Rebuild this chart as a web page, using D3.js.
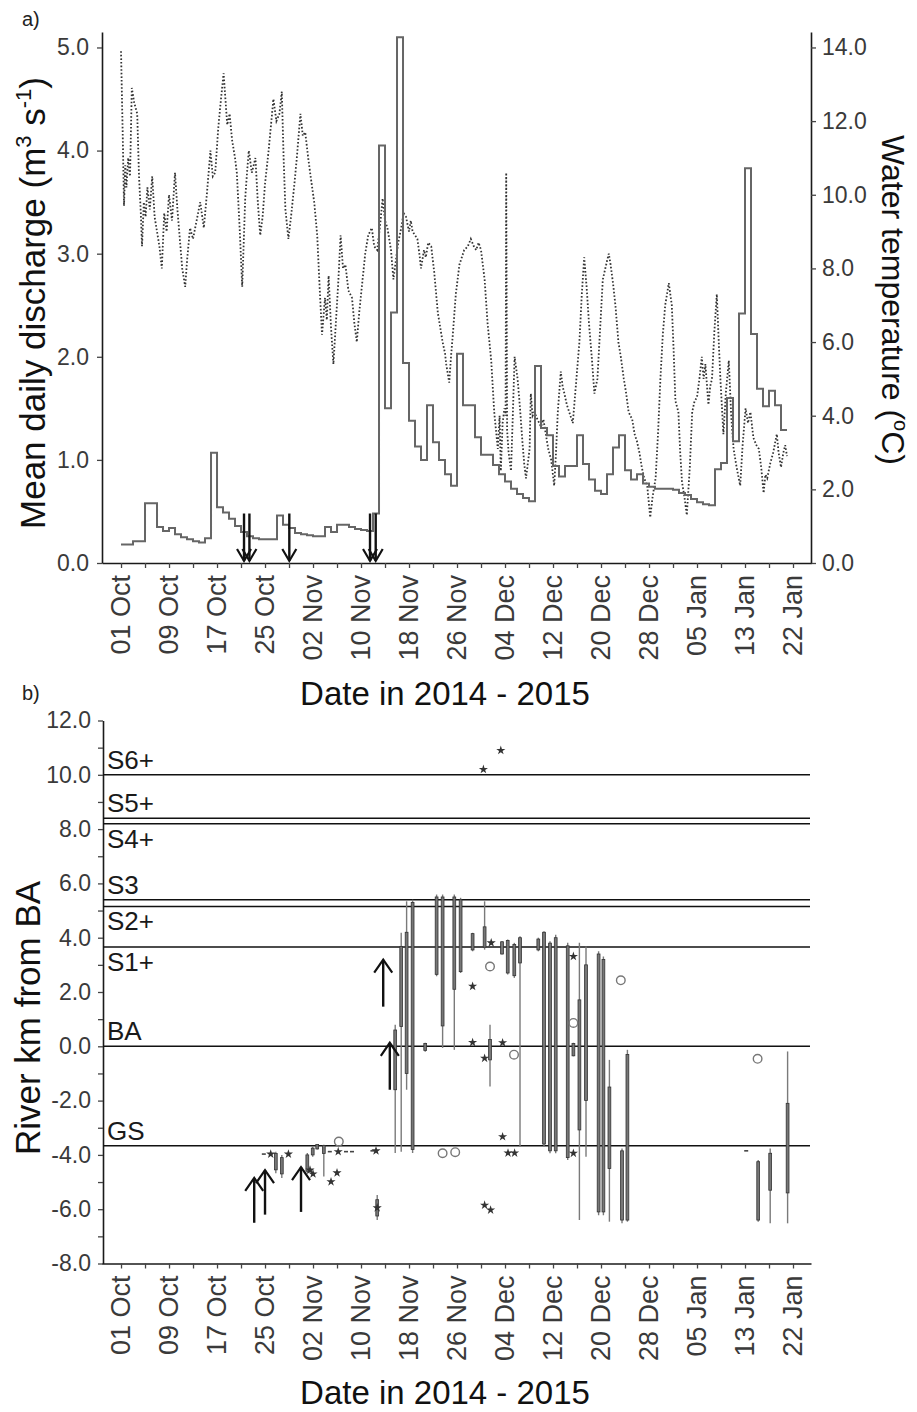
<!DOCTYPE html>
<html><head><meta charset="utf-8">
<script src="https://cdnjs.cloudflare.com/ajax/libs/d3/7.8.5/d3.min.js"></script>
<style>
body{margin:0;background:#fff;}
svg{font-family:"Liberation Sans", Arial, sans-serif;}
</style></head><body>
<svg id="chart" width="917" height="1412"></svg>
<script>
// ---------------- DATA ----------------
const dateTickDays = [0,8,16,24,32,40,48,56,64,72,80,88,96,104,112];
const dateTickLabels = ["01 Oct","09 Oct","17 Oct","25 Oct","02 Nov","10 Nov","18 Nov","26 Nov","04 Dec","12 Dec","20 Dec","28 Dec","05 Jan","13 Jan","22 Jan"];

// mean daily discharge (m3 s-1), one value per day from 01 Oct 2014
const discharge = [
0.18,0.18,0.21,0.21,0.58,0.58,0.35,0.31,0.34,0.28,
0.25,0.23,0.21,0.20,0.24,1.07,0.54,0.49,0.43,0.36,
0.30,0.26,0.24,0.23,0.23,0.23,0.46,0.37,0.34,0.29,
0.28,0.27,0.26,0.26,0.35,0.30,0.37,0.37,0.35,0.33,
0.32,0.31,0.48,4.05,1.50,2.43,5.10,1.94,1.38,1.13,
1.00,1.53,1.17,1.00,0.86,0.75,2.03,1.53,1.53,1.22,
1.05,1.05,0.95,0.86,0.79,0.72,0.67,0.63,0.60,1.91,
1.31,1.24,0.94,0.84,0.94,0.94,1.24,0.96,0.81,0.70,
0.67,0.86,1.12,1.24,0.90,0.81,0.86,0.77,0.74,0.72,
0.72,0.72,0.71,0.68,0.66,0.62,0.59,0.57,0.56,0.91,
0.97,1.60,1.18,2.42,3.83,2.22,1.69,1.52,1.67,1.53,
1.29];

// water temperature (deg C), sampled along the record (day offset from 01 Oct)
const tempDays = [
0.0,0.3,0.5,0.7,0.9,1.2,1.5,1.8,2.2,2.7,3.0,3.3,3.5,3.8,4.1,4.4,4.8,5.2,5.6,6.0,
6.4,6.8,7.2,7.6,8.0,8.5,9.0,9.4,9.8,10.2,10.7,11.0,11.5,12.0,12.6,13.2,13.8,14.3,14.9,15.3,
15.7,16.2,16.6,17.1,17.7,18.1,18.5,19.0,19.3,19.8,20.2,20.7,21.0,21.3,21.8,22.4,22.8,23.2,23.6,24.0,
24.6,25.4,25.9,26.4,26.8,27.1,27.4,27.9,28.4,28.9,29.3,29.9,30.3,30.7,31.2,31.6,32.2,32.7,33.1,33.5,
34.0,34.3,34.6,35.0,35.4,35.8,36.2,36.6,37.0,37.4,37.9,38.5,38.9,39.3,39.7,40.2,40.7,41.2,41.8,42.2,
42.7,43.2,43.6,44.0,44.4,45.0,45.4,45.8,46.2,46.7,47.1,47.5,48.0,48.3,48.6,49.0,49.4,49.8,50.0,50.5,
50.8,51.2,51.7,52.2,52.8,53.3,53.6,54.0,54.2,54.7,55.0,55.3,55.8,56.4,56.8,57.2,57.8,58.3,58.8,59.2,
59.6,60.0,60.6,61.1,61.7,62.2,62.5,62.8,63.1,63.3,63.6,63.9,64.1,64.2,64.35,64.6,65.0,65.3,65.6,66.1,
66.5,66.9,67.2,67.5,68.1,68.3,68.6,68.9,69.4,70.0,70.4,70.8,71.2,71.7,72.2,72.5,72.8,73.3,73.6,73.9,
74.3,74.7,75.3,75.8,76.4,76.8,77.2,77.6,78.0,78.5,78.9,79.4,79.9,80.3,81.0,81.3,81.6,82.0,82.4,82.9,
83.3,83.8,84.2,84.6,85.2,85.6,86.0,86.4,86.8,87.2,87.7,88.2,88.6,89.1,89.5,89.9,90.3,90.7,91.3,91.8,
92.1,92.4,92.9,93.2,93.5,93.9,94.3,94.8,95.2,95.6,96.0,96.4,96.8,97.1,97.4,97.9,98.2,98.5,98.9,99.3,
99.6,99.9,100.4,100.8,101.3,101.7,102.1,102.6,103.2,103.6,104.1,104.5,104.9,105.4,105.9,106.3,106.7,107.1,107.4,107.7,
108.2,108.7,109.3,109.6,110.0,110.4,110.7,111.0];
const tempValues = [
13.9,11.5,9.7,10.8,10.2,11.0,10.5,12.9,12.5,12.2,10.5,9.5,8.6,9.8,9.4,10.2,9.6,10.5,9.4,9.0,
8.6,8.0,9.5,9.0,10.0,9.3,10.6,9.6,8.8,8.0,7.5,8.2,9.1,8.8,9.3,9.8,9.1,10.0,11.2,10.5,
10.6,11.8,12.5,13.3,11.9,12.2,11.5,11.0,10.6,9.0,7.5,9.9,10.6,11.2,10.6,11.0,9.8,8.9,9.4,10.3,
11.2,12.6,12.0,12.2,12.8,11.0,9.6,8.8,9.5,10.3,11.0,12.2,11.6,11.7,11.0,10.5,9.8,8.9,7.5,6.2,
7.2,6.6,7.8,6.4,5.4,6.5,7.6,8.9,8.0,8.1,7.4,7.2,6.5,6.0,6.8,7.6,8.4,8.9,9.1,8.6,
8.5,9.2,9.9,9.3,9.1,8.5,7.7,8.2,8.7,9.1,9.5,9.4,9.0,9.3,9.0,8.9,8.8,8.3,8.0,8.5,
8.3,8.7,8.6,7.9,6.8,6.3,6.0,5.7,5.4,4.9,5.6,6.2,7.3,8.1,8.3,8.5,8.6,8.8,8.6,8.5,
8.7,8.5,7.7,6.5,5.5,4.1,3.6,3.1,4.0,2.5,3.8,4.2,4.0,10.6,3.6,3.0,2.5,4.0,5.6,5.0,
4.2,3.3,2.7,2.3,3.1,4.6,4.0,4.1,3.9,3.7,3.9,3.5,3.1,2.8,2.1,3.0,4.1,5.2,4.8,4.6,
4.3,4.1,3.8,4.8,6.0,7.3,8.3,7.5,6.5,5.5,4.6,5.0,6.5,7.7,8.2,8.4,8.1,7.6,7.0,6.0,
5.6,5.0,4.6,4.1,3.9,3.5,3.3,3.0,2.6,2.3,2.1,1.24,1.8,2.3,3.5,5.0,6.2,7.0,7.6,7.0,
5.8,4.4,4.1,3.0,2.2,1.8,1.3,2.6,4.1,4.4,4.5,5.0,5.6,5.0,5.4,4.3,4.8,5.0,6.3,7.3,
6.1,5.0,3.5,4.6,5.5,4.0,3.1,2.6,2.1,3.2,4.2,3.8,4.1,3.4,3.2,3.1,2.6,1.9,2.4,2.3,
2.7,3.0,3.5,3.0,2.6,3.0,3.2,2.9];

// release / event arrows (panel a), day offsets
const arrowDaysA = [20.5,21.4,28.05,41.5,42.45];
const arrowTailQ = 0.48, arrowTipQ = 0.02;

// panel b: river sections
const zoneNames = ["S6+","S5+","S4+","S3","S2+","S1+","BA","GS"];
const zoneKm    = [10.0, 8.4, 8.2, 5.4, 5.15, 3.66, 0, -3.66];
const zoneLabelBelow = [false,false,true,false,true,true,false,false];

// panel b: individual tracks [day, min, max, q1, q3]
const tracks = [
[25.8,-4.68,-3.88,-4.55,-3.95],[26.8,-4.85,-4.0,-4.7,-4.1],[31.05,-4.68,-3.93,-4.6,-4.0],
[31.95,-4.07,-3.7,-4.0,-3.75],[32.7,-3.8,-3.6,-3.78,-3.62],[33.8,-4.8,-3.63,-3.95,-3.65],
[42.7,-6.4,-5.48,-6.25,-5.65],[45.7,-3.93,0.79,-1.6,0.6],[46.7,-3.88,4.18,0.73,3.68],
[47.6,-1.6,5.34,-1.0,4.2],[48.6,-3.93,5.4,-3.8,5.3],[50.7,-0.2,0.13,-0.15,0.1],
[52.6,2.58,5.59,2.65,5.5],[53.6,-0.06,5.59,0.75,5.5],[55.55,-0.13,5.59,2.1,5.5],
[56.6,2.7,5.47,2.75,5.4],[58.6,3.5,4.18,3.55,4.15],[60.6,3.56,5.34,3.65,4.4],
[61.5,-1.48,0.79,-0.5,0.25],[63.5,3.38,3.87,3.4,3.85],[64.45,2.64,3.93,2.7,3.9],
[65.55,2.52,3.81,2.6,3.75],[66.5,-3.7,4.05,3.07,4.0],[69.55,3.5,4.0,3.55,3.95],
[70.5,-3.7,4.24,-3.6,4.2],[71.5,-3.94,3.87,-3.85,3.8],[72.45,-3.94,4.11,-3.85,4.0],
[74.45,-4.19,3.81,-4.1,3.7],[75.4,-0.37,0.13,-0.35,0.1],[76.4,-6.4,3.81,-3.08,1.71],
[77.5,-4.07,3.68,-2.0,3.0],[79.6,-6.22,3.5,-6.1,3.4],[80.4,-6.22,3.31,-6.1,3.2],
[81.4,-6.46,-0.5,-4.5,-1.5],[83.5,-6.52,-3.76,-6.4,-3.85],[84.4,-6.46,-0.13,-6.4,-0.3],
[106.2,-6.46,-4.19,-6.4,-4.25],[108.2,-6.52,-3.76,-5.3,-3.94],[111.1,-6.52,-0.19,-5.4,-2.1]
];
const starOutliers = [
[24.95,-3.97],[27.9,-3.97],[31.5,-4.56],[32.0,-4.7],[35.0,-4.99],[36.0,-4.66],[36.2,-3.88],
[42.5,-3.85],[42.7,-5.95],[60.4,10.2],[63.3,10.9],[58.6,2.21],[58.6,0.14],[60.6,-0.44],
[61.7,3.81],[63.6,0.13],[63.6,-3.33],[64.5,-3.93],[65.6,-3.93],[60.6,-5.85],[61.6,-6.03],
[75.4,3.31],[75.4,-3.94]
];
const circleOutliers = [
[36.3,-3.51],[53.6,-3.94],[55.7,-3.9],[61.5,2.94],[65.5,-0.31],[75.4,0.86],[83.3,2.43],[106.1,-0.46]
];
const singleFixes = [[23.8,-3.97],[34.8,-3.88],[37.5,-3.88],[38.5,-3.88],[41.9,-3.85],[104.2,-3.85]];
// upward arrows in panel b: [day, tip km, tail km]
const arrowsB = [[22.2,-4.85,-6.5],[24.0,-4.56,-6.2],[30.0,-4.45,-6.1],[43.7,3.19,1.46],[44.8,0.13,-1.6]];

// ---------------- DRAWING ----------------
const svg = d3.select("#chart");
const x = d3.scaleLinear().domain([-3.17, 115]).range([102, 811]);
const yQ = d3.scaleLinear().domain([0, 5]).range([563, 47.5]);
const yT = d3.scaleLinear().domain([0, 14]).range([563, 47.5]);
const yK = d3.scaleLinear().domain([-8, 12]).range([1263.5, 720.5]);
const fmt1 = d => (d < 0 ? "-" : "") + Math.abs(d).toFixed(1);

function styleAxis(g, fs){
  g.select(".domain").attr("stroke","#1a1a1a").attr("stroke-width",1.6);
  g.selectAll(".tick line").attr("stroke","#444").attr("stroke-width",1.3);
  g.selectAll(".tick text").attr("fill","#3a3a3a").attr("font-size",fs)
   .attr("font-family",'"Liberation Sans", Arial, sans-serif');
}

// ---- panel a axes
const gAL = svg.append("g").attr("transform","translate(102,0)")
  .call(d3.axisLeft(d3.scaleLinear().domain([0,5.15]).range([563,32]))
  .tickValues(d3.range(0,6)).tickFormat(fmt1).tickSize(5).tickSizeOuter(0).tickPadding(8));
styleAxis(gAL, 23);
const gAR = svg.append("g").attr("transform","translate(811,0)")
  .call(d3.axisRight(d3.scaleLinear().domain([0,14*5.15/5]).range([563,32]))
  .tickValues(d3.range(0,15,2)).tickFormat(fmt1).tickSize(5).tickSizeOuter(0).tickPadding(6));
styleAxis(gAR, 23);

function dateAxis(yPos){
  const g = svg.append("g").attr("transform",`translate(0,${yPos})`)
    .call(d3.axisBottom(x).tickValues(d3.range(0,113,4)).tickFormat("").tickSize(5).tickSizeOuter(0));
  styleAxis(g, 23);
  svg.append("g").selectAll("text").data(dateTickDays).join("text")
    .attr("transform", d => `translate(${x(d)},${yPos+12}) rotate(-90)`)
    .attr("text-anchor","end").attr("dy","0.35em")
    .attr("font-size",27).attr("fill","#3a3a3a")
    .text((d,i) => dateTickLabels[i]);
}
dateAxis(563);

// temperature (dotted)
const tempPts = tempDays.map((d,i)=>[d,tempValues[i]]);
svg.append("path").datum(tempPts)
  .attr("fill","none").attr("stroke","#333").attr("stroke-width",1.8)
  .attr("stroke-dasharray","1.6,2")
  .attr("d", d3.line().x(d=>x(d[0])).y(d=>yT(d[1])));

// discharge (step)
const qPts = discharge.map((v,i)=>[i,v]);
qPts.push([discharge.length, discharge[discharge.length-1]]);
svg.append("path").datum(qPts)
  .attr("fill","none").attr("stroke","#666").attr("stroke-width",2)
  .attr("d", d3.line().curve(d3.curveStepAfter).x(d=>x(d[0])).y(d=>yQ(d[1])));

// arrows
function arrow(g, xp, yTail, yTip, hw, hh){
  const dir = yTip > yTail ? -1 : 1;
  g.append("line").attr("x1",xp).attr("x2",xp).attr("y1",yTail).attr("y2",yTip)
    .attr("stroke","#111").attr("stroke-width",2.4);
  g.append("path").attr("d",`M${xp-hw},${yTip+dir*hh}L${xp},${yTip}L${xp+hw},${yTip+dir*hh}`)
    .attr("fill","none").attr("stroke","#111").attr("stroke-width",2.2);
}
const gArrA = svg.append("g");
arrowDaysA.forEach(d => arrow(gArrA, x(d), yQ(arrowTailQ), yQ(arrowTipQ), 7, 12));

// titles panel a
svg.append("text").attr("x",22).attr("y",26).attr("font-size",20).attr("fill","#222").text("a)");
const tl = svg.append("text").attr("transform","translate(45,303) rotate(-90)")
  .attr("text-anchor","middle").attr("font-size",35).attr("fill","#111");
tl.append("tspan").text("Mean daily discharge (m");
tl.append("tspan").attr("font-size",22).attr("dy",-14).text("3");
tl.append("tspan").attr("dy",14).text(" s");
tl.append("tspan").attr("font-size",22).attr("dy",-14).text("-1");
tl.append("tspan").attr("dy",14).text(")");
const tr = svg.append("text").attr("transform","translate(882,300) rotate(90)")
  .attr("text-anchor","middle").attr("font-size",32).attr("fill","#111");
tr.append("tspan").text("Water temperature (");
tr.append("tspan").attr("font-size",20).attr("dy",-12).text("o");
tr.append("tspan").attr("dy",12).text("C)");
svg.append("text").attr("x",445).attr("y",705).attr("text-anchor","middle")
  .attr("font-size",33).attr("fill","#111").text("Date in 2014 - 2015");

// ---- panel b
svg.append("text").attr("x",22).attr("y",700).attr("font-size",20).attr("fill","#222").text("b)");
const gBL = svg.append("g").attr("transform","translate(103,0)")
  .call(d3.axisLeft(yK).tickValues(d3.range(-8,13,1))
  .tickFormat(d => d % 2 === 0 ? fmt1(d) : "").tickSize(5).tickSizeOuter(0).tickPadding(7));
styleAxis(gBL, 23);
dateAxis(1263.5);

// zone lines and labels
const gZ = svg.append("g");
zoneKm.forEach((k,i)=>{
  gZ.append("line").attr("x1",103).attr("x2",810).attr("y1",yK(k)).attr("y2",yK(k))
    .attr("stroke","#111").attr("stroke-width",1.5);
  gZ.append("text").attr("x",107).attr("y", yK(k) + (zoneLabelBelow[i] ? 24 : -6))
    .attr("font-size",26).attr("fill","#1a1a1a").text(zoneNames[i]);
});

// tracks
const gT = svg.append("g");
tracks.forEach(t=>{
  const xp = x(t[0]);
  gT.append("line").attr("x1",xp).attr("x2",xp).attr("y1",yK(t[1])).attr("y2",yK(t[2]))
    .attr("stroke","#7a7a7a").attr("stroke-width",1.4);
  gT.append("rect").attr("x",xp-1.4).attr("width",2.8)
    .attr("y",yK(t[4])).attr("height",Math.max(1.5, yK(t[3])-yK(t[4])))
    .attr("fill","#777").attr("stroke","#333").attr("stroke-width",0.8);
});
singleFixes.forEach(s=>{
  gT.append("line").attr("x1",x(s[0])-2).attr("x2",x(s[0])+2).attr("y1",yK(s[1])).attr("y2",yK(s[1]))
    .attr("stroke","#444").attr("stroke-width",1.6);
});
const star = d3.symbol().type(d3.symbolStar).size(26);
gT.selectAll("path.star").data(starOutliers).join("path").attr("class","star")
  .attr("transform", d=>`translate(${x(d[0])},${yK(d[1])})`)
  .attr("d", star).attr("fill","#333");
gT.selectAll("circle.out").data(circleOutliers).join("circle").attr("class","out")
  .attr("cx", d=>x(d[0])).attr("cy", d=>yK(d[1])).attr("r",4.3)
  .attr("fill","none").attr("stroke","#777").attr("stroke-width",1.4);

// arrows panel b (pointing up)
const gArrB = svg.append("g");
arrowsB.forEach(a => arrow(gArrB, x(a[0]), yK(a[2]), yK(a[1]), 9, 13));

// titles panel b
svg.append("text").attr("transform","translate(40,1018) rotate(-90)")
  .attr("text-anchor","middle").attr("font-size",35).attr("fill","#111").text("River km from BA");
svg.append("text").attr("x",445).attr("y",1404).attr("text-anchor","middle")
  .attr("font-size",33).attr("fill","#111").text("Date in 2014 - 2015");
</script>
</body></html>
